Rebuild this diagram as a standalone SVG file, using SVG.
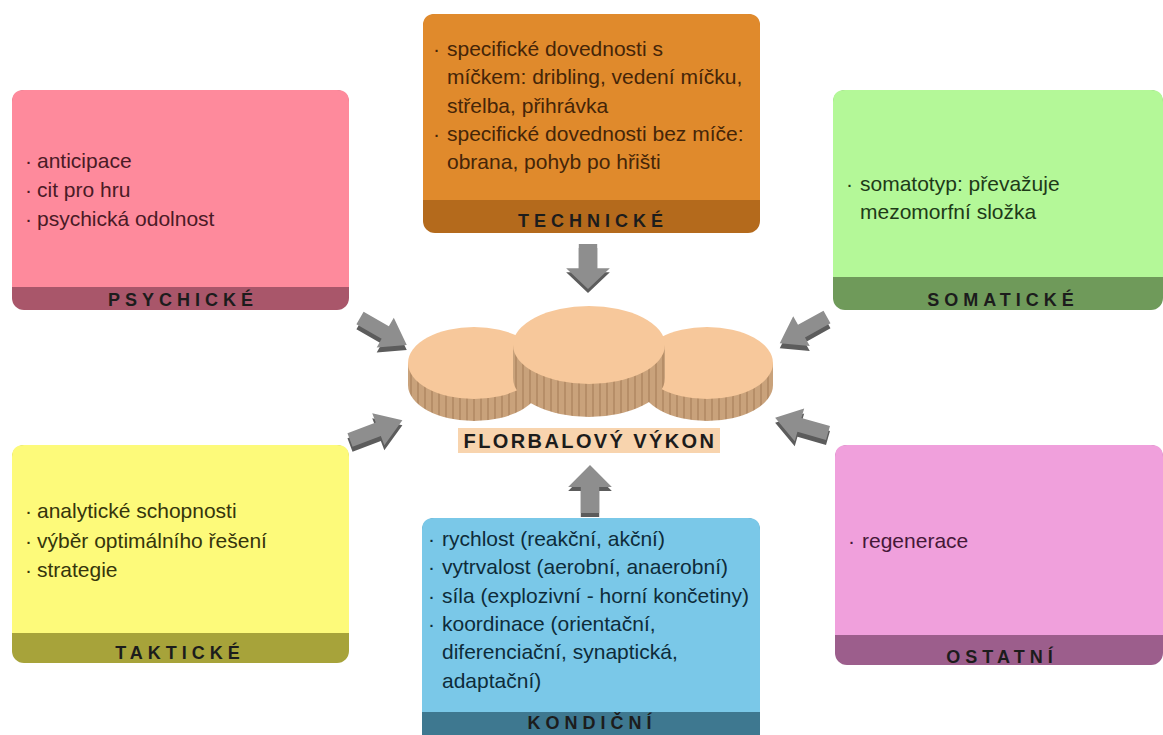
<svg xmlns="http://www.w3.org/2000/svg" width="1163" height="735" viewBox="0 0 1163 735">
<style>
.t{font-family:"Liberation Sans",Arial,sans-serif;font-size:21px}
.lb{font-family:"Liberation Sans",Arial,sans-serif;font-size:18px;font-weight:bold;letter-spacing:5px;fill:#1c1c1c;text-anchor:middle}
.ttl{font-family:"Liberation Sans",Arial,sans-serif;font-size:20px;font-weight:bold;letter-spacing:2.4px;fill:#1c1c1c;text-anchor:middle}
.af{fill:#8e8e8e}
.as{fill:#5c5c5c}
.dtop{fill:#f7c89b}
.dside{fill:url(#stripes)}
</style>
<defs>
<path id="arr" d="M0,-8 L27,-8 L27,-19 L50,0 L27,19 L27,8 L0,8 Z"/>
<pattern id="stripes" patternUnits="userSpaceOnUse" width="7" height="10">
<rect width="7" height="10" fill="#c9a27b"/>
<rect x="4" width="2" height="10" fill="#b68e68"/>
</pattern>
</defs>
<rect width="1163" height="735" fill="#ffffff"/>

<g id="psychicke">
<rect x="12" y="90" width="337" height="220" rx="12" fill="#a9566a"/>
<path d="M12,287 V102 Q12,90 24,90 H337 Q349,90 349,102 V287 Z" fill="#fe8a9c"/>
<text class="t" fill="#4a1a26"><tspan x="25" y="168">·</tspan><tspan x="37" y="168">anticipace</tspan><tspan x="25" y="197">·</tspan><tspan x="37" y="197">cit pro hru</tspan><tspan x="25" y="226">·</tspan><tspan x="37" y="226">psychická odolnost</tspan></text>
<text class="lb" x="183" y="306">PSYCHICKÉ</text>
</g>

<g id="technicke">
<rect x="423" y="14" width="337" height="219" rx="12" fill="#b46a1c"/>
<path d="M423,200 V26 Q423,14 435,14 H748 Q760,14 760,26 V200 Z" fill="#e08a2c"/>
<text class="t" fill="#452508"><tspan x="433" y="56">·</tspan><tspan x="447" y="56">specifické dovednosti s</tspan><tspan x="447" y="84">míčkem: dribling, vedení míčku,</tspan><tspan x="447" y="113">střelba, přihrávka</tspan><tspan x="433" y="141">·</tspan><tspan x="447" y="141">specifické dovednosti bez míče:</tspan><tspan x="447" y="169">obrana, pohyb po hřišti</tspan></text>
<text class="lb" x="593" y="227">TECHNICKÉ</text>
</g>

<g id="somaticke">
<rect x="833" y="90" width="330" height="220" rx="12" fill="#6f9a5a"/>
<path d="M833,277 V102 Q833,90 845,90 H1151 Q1163,90 1163,102 V277 Z" fill="#b4f898"/>
<text class="t" fill="#1e3a18"><tspan x="846" y="191">·</tspan><tspan x="860" y="191">somatotyp: převažuje</tspan><tspan x="860" y="219">mezomorfní složka</tspan></text>
<text class="lb" x="1003" y="306">SOMATICKÉ</text>
</g>

<g id="takticke">
<rect x="12" y="445" width="337" height="218" rx="12" fill="#a7a33a"/>
<path d="M12,633 V457 Q12,445 24,445 H337 Q349,445 349,457 V633 Z" fill="#fdfa7a"/>
<text class="t" fill="#35350c"><tspan x="25" y="518">·</tspan><tspan x="37" y="518">analytické schopnosti</tspan><tspan x="25" y="548">·</tspan><tspan x="37" y="548">výběr optimálního řešení</tspan><tspan x="25" y="577">·</tspan><tspan x="37" y="577">strategie</tspan></text>
<text class="lb" x="180" y="659">TAKTICKÉ</text>
</g>

<g id="kondicni">
<rect x="422" y="518" width="338" height="230" rx="12" fill="#3e7890"/>
<path d="M422,712 V530 Q422,518 434,518 H748 Q760,518 760,530 V712 Z" fill="#7ac8e8"/>
<text class="t" fill="#0e2c3a"><tspan x="428" y="546">·</tspan><tspan x="442" y="546">rychlost (reakční, akční)</tspan><tspan x="428" y="574">·</tspan><tspan x="442" y="574">vytrvalost (aerobní, anaerobní)</tspan><tspan x="428" y="603">·</tspan><tspan x="442" y="603">síla (explozivní - horní končetiny)</tspan><tspan x="428" y="631">·</tspan><tspan x="442" y="631">koordinace (orientační,</tspan><tspan x="442" y="659">diferenciační, synaptická,</tspan><tspan x="442" y="688">adaptační)</tspan></text>
<text class="lb" x="592" y="729">KONDIČNÍ</text>
</g>

<g id="ostatni">
<rect x="835" y="445" width="328" height="220" rx="12" fill="#9c5e8c"/>
<path d="M835,635 V457 Q835,445 847,445 H1151 Q1163,445 1163,457 V635 Z" fill="#f0a0dc"/>
<text class="t" fill="#451838"><tspan x="848" y="548">·</tspan><tspan x="862" y="548">regenerace</tspan></text>
<text class="lb" x="1002" y="663">OSTATNÍ</text>
</g>

<g id="florbalovy-vykon">
<path class="dside" d="M408,363 V385 A66,36 0 0 0 540,385 V363 Z"/>
<ellipse class="dtop" cx="474" cy="363" rx="66" ry="36"/>
<path class="dside" d="M641,363 V385 A66,36 0 0 0 773,385 V363 Z"/>
<ellipse class="dtop" cx="707" cy="363" rx="66" ry="36"/>
<path class="dside" d="M513,345 V378 A76,39 0 0 0 665,378 V345 Z"/>
<ellipse class="dtop" cx="589" cy="345" rx="76" ry="39"/>
<rect x="458" y="428" width="262" height="25" fill="#f8d4ae"/>
<text class="ttl" x="590" y="448">FLORBALOVÝ VÝKON</text>
</g>

<g id="connectors">
<use href="#arr" class="as" transform="translate(588,248) rotate(90) scale(0.9,1.15)"/>
<use href="#arr" class="af" transform="translate(588,244) rotate(90) scale(0.9,1.15)"/>
<use href="#arr" class="as" transform="translate(590,517) rotate(-90) scale(0.96,1.15)"/>
<use href="#arr" class="af" transform="translate(590,513) rotate(-90) scale(0.96,1.15)"/>
<use href="#arr" class="as" transform="translate(360,323) rotate(30) scale(1.08,0.9)"/>
<use href="#arr" class="af" transform="translate(360,318) rotate(30) scale(1.08,0.9)"/>
<use href="#arr" class="as" transform="translate(350,445) rotate(-20.7) scale(1.12,0.9)"/>
<use href="#arr" class="af" transform="translate(350,440) rotate(-20.7) scale(1.12,0.9)"/>
<use href="#arr" class="as" transform="translate(827,322) rotate(151) scale(1.08,0.9)"/>
<use href="#arr" class="af" transform="translate(827,317) rotate(151) scale(1.08,0.9)"/>
<use href="#arr" class="as" transform="translate(828,438) rotate(196) scale(1.1,0.9)"/>
<use href="#arr" class="af" transform="translate(828,433) rotate(196) scale(1.1,0.9)"/>
</g>
</svg>
